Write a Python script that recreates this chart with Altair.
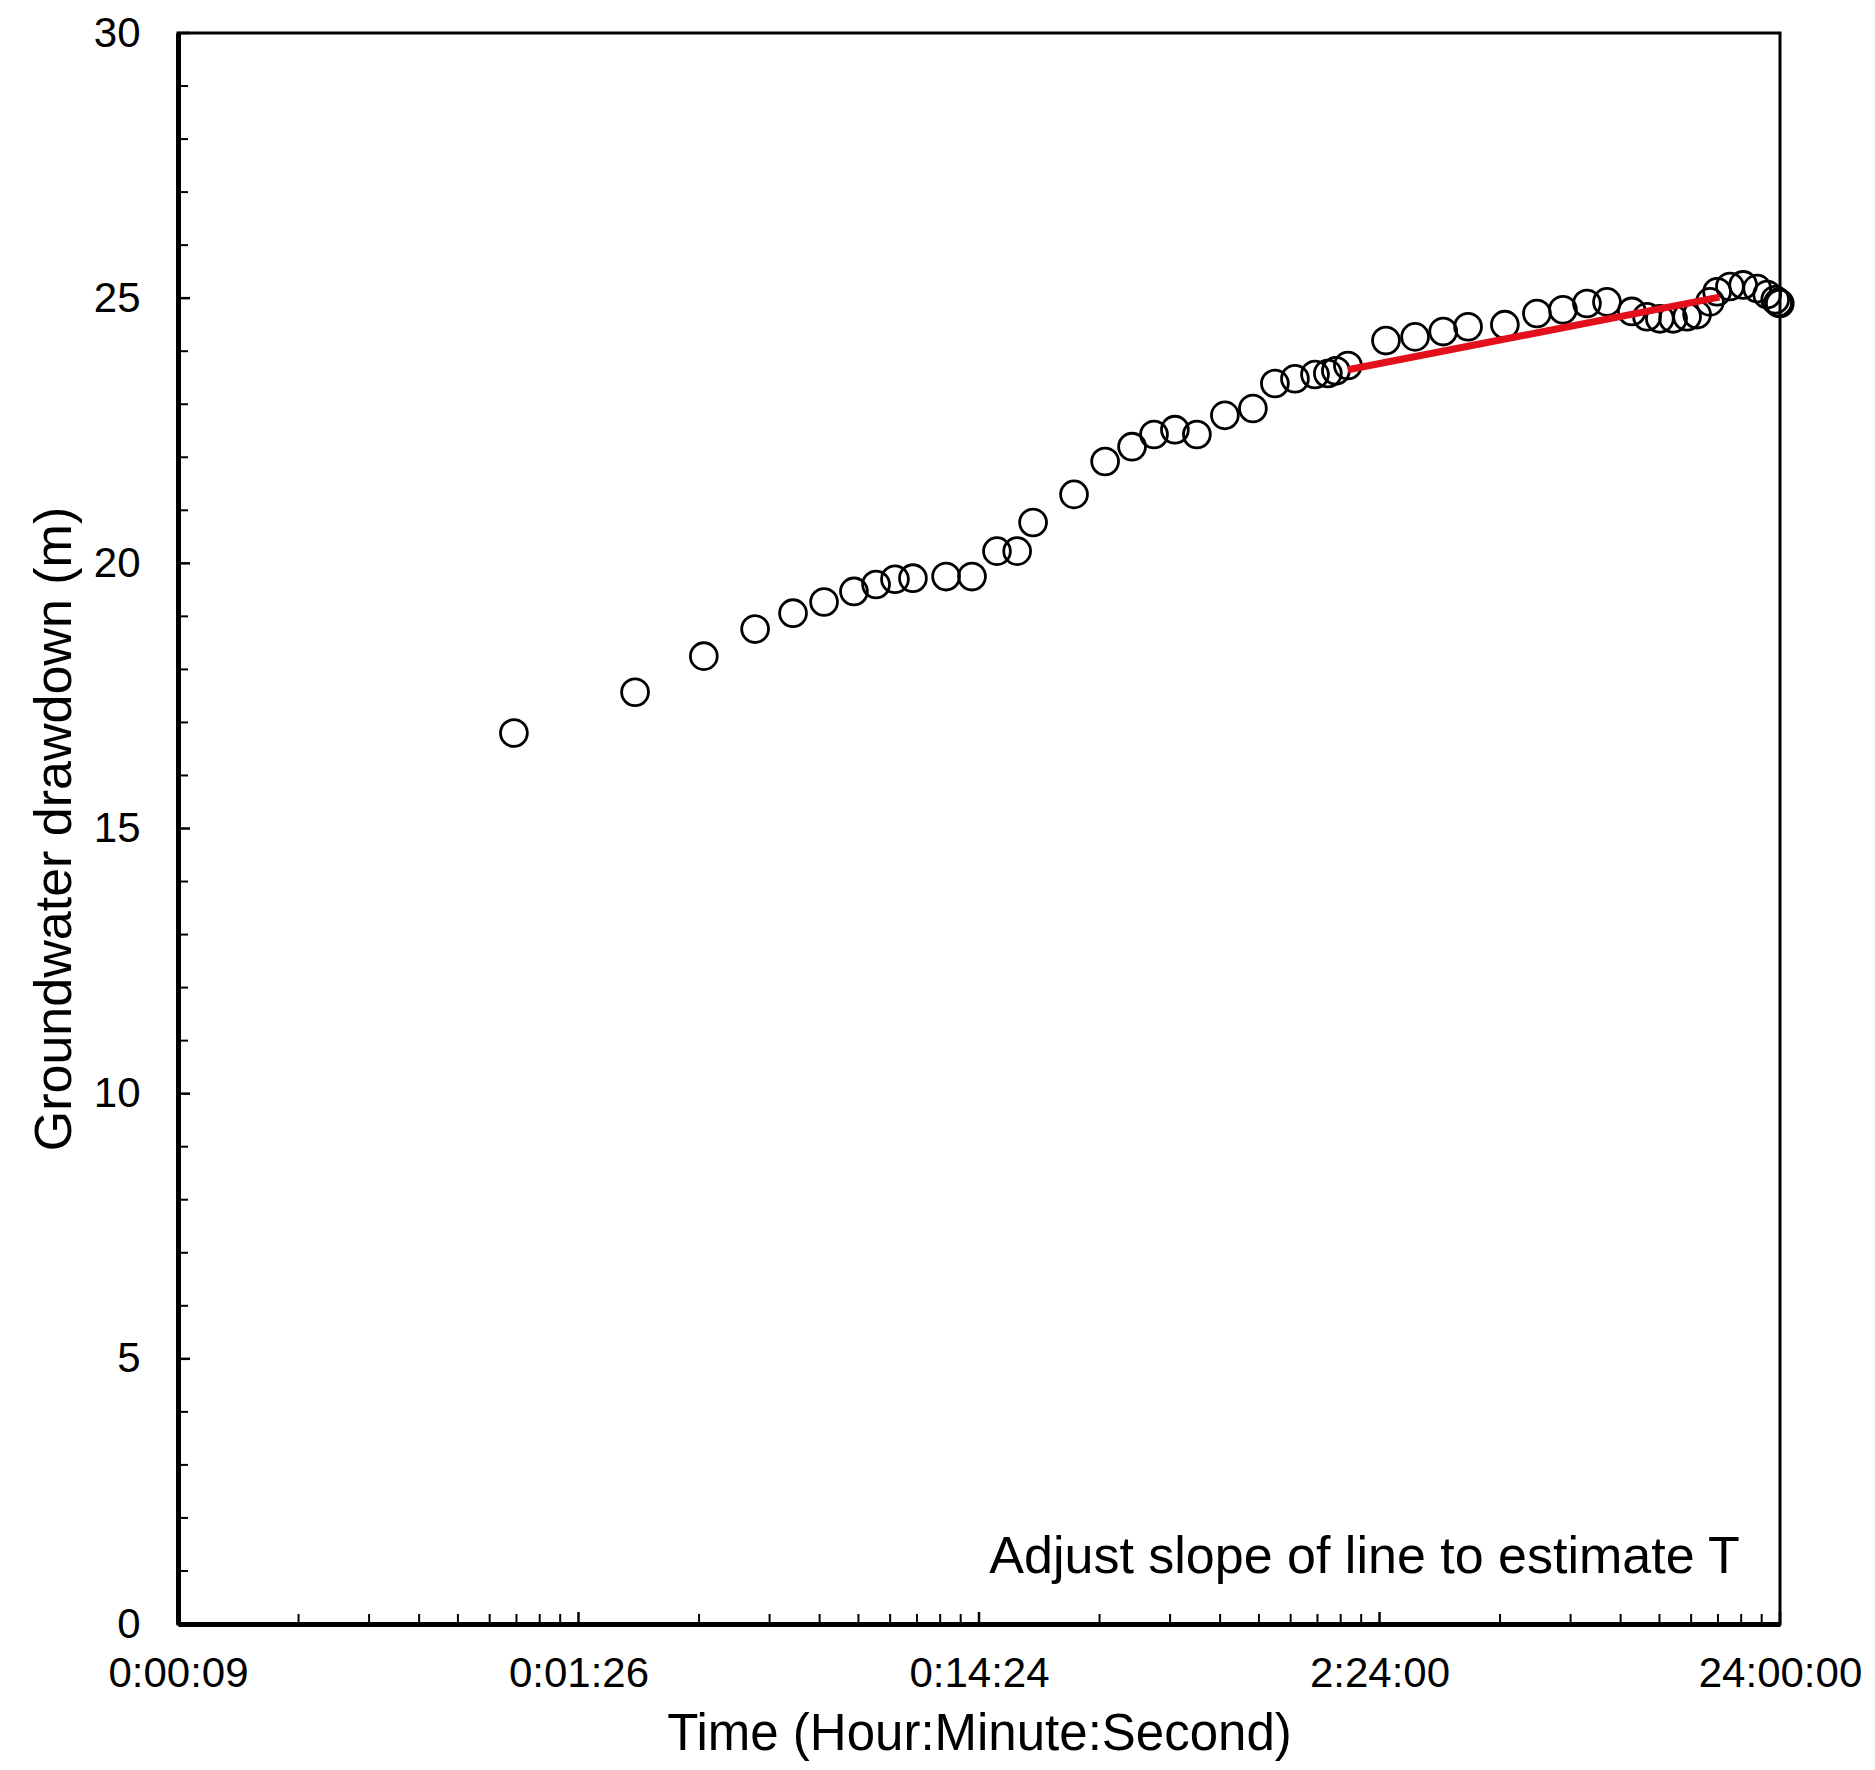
import json
import altair as alt
import pandas as pd

# ---- data ----
time_s = [59.6, 119.6, 177.6, 238.5, 296.6, 354.5, 421, 478, 533, 591, 715, 830,
          958, 1076, 1179, 1492, 1784, 2083, 2363, 2665, 3024, 3552, 4173, 4735,
          5314, 5963, 6420, 6724, 7205, 8968, 10602, 12460, 14377, 17764, 21358,
          24805, 28477, 31951, 36858, 40228, 43304, 46725, 50639, 53646, 57741,
          60186, 64791, 69906, 75773, 80266, 84041, 85500, 86300]
drawdown_m = [16.80, 17.57, 18.25, 18.76, 19.06, 19.27, 19.47, 19.60, 19.70, 19.72,
              19.75, 19.75, 20.23, 20.23, 20.77, 21.30, 21.92, 22.20, 22.43, 22.52,
              22.43, 22.79, 22.92, 23.39, 23.48, 23.56, 23.58, 23.63, 23.73, 24.20,
              24.27, 24.37, 24.46, 24.50, 24.71, 24.78, 24.90, 24.93, 24.75, 24.65,
              24.61, 24.61, 24.65, 24.69, 24.93, 25.12, 25.22, 25.25, 25.18, 25.07,
              24.97, 24.92, 24.90]

fit_time_s = [7205, 61000]
fit_drawdown_m = [23.65, 25.02]

x_major = [8.64, 86.4, 864, 8640, 86400]
x_labels = ["0:00:09", "0:01:26", "0:14:24", "2:24:00", "24:00:00"]
y_major = [0, 5, 10, 15, 20, 25, 30]
y_minor = [v for v in range(0, 31) if v % 5 != 0]
x_minor = [b * m for b in x_major[:-1] for m in range(2, 10)]

note_text = ["Adjust slope of line to estimate T"]
note_time = [68600]
note_drawdown = [0.96]

W, H = 1602, 1591
FONT = "Liberation Sans"

pts = pd.DataFrame({"t": time_s, "d": drawdown_m})
fit = pd.DataFrame({"t": fit_time_s, "d": fit_drawdown_m})
xmaj = pd.DataFrame({"t": x_major})
xmin = pd.DataFrame({"t": x_minor})
ymaj = pd.DataFrame({"d": y_major})
ymin = pd.DataFrame({"d": y_minor})
note = pd.DataFrame({"t": note_time, "d": note_drawdown, "txt": note_text})

xscale = alt.Scale(type="log", domain=[8.64, 86400], nice=False)
yscale = alt.Scale(domain=[0, 30], nice=False, zero=False)

label_expr = (json.dumps(x_labels).replace('"', "'") +
              "[round(log(datum.value/8.64)/LN10)]")

xaxis = alt.Axis(title="Time (Hour:Minute:Second)", values=x_major,
                 labelExpr=label_expr, tickSize=0, labelPadding=29,
                 labelFlush=False, labelOverlap=False, grid=False,
                 titlePadding=15, titleFontSize=51)
yaxis = alt.Axis(title="Groundwater drawdown (m)", values=y_major,
                 tickSize=0, labelPadding=38, grid=False, titlePadding=12)


def X():
    return alt.X("t:Q", scale=xscale, axis=xaxis)


def Y():
    return alt.Y("d:Q", scale=yscale, axis=yaxis)


points = alt.Chart(pts).mark_point(
    shape="circle", filled=False, size=720, strokeWidth=2.8, color="black", opacity=1
).encode(x=X(), y=Y())

line = alt.Chart(fit).mark_line(color="#e3101c", strokeWidth=7).encode(x=X(), y=Y())

xt_major = alt.Chart(xmaj).mark_rule(color="black", strokeWidth=2.5).encode(
    x=X(), y=alt.value(H), y2=alt.value(H - 12),
)
xt_minor = alt.Chart(xmin).mark_rule(color="black", strokeWidth=2).encode(
    x=X(), y=alt.value(H), y2=alt.value(H - 10),
)
yt_major = alt.Chart(ymaj).mark_rule(color="black", strokeWidth=2.5).encode(
    y=Y(), x=alt.value(0), x2=alt.value(12),
)
yt_minor = alt.Chart(ymin).mark_rule(color="black", strokeWidth=2).encode(
    y=Y(), x=alt.value(0), x2=alt.value(10),
)

annot = alt.Chart(note).mark_text(
    align="right", baseline="alphabetic", fontSize=52, font=FONT, color="black"
).encode(x=X(), y=Y(), text="txt:N")

chart = alt.layer(points, line, xt_major, xt_minor, yt_major, yt_minor, annot).properties(
    width=W, height=H,
    background="white",
    autosize=alt.AutoSizeParams(type="none"),
    padding={"left": 170, "top": 25, "right": 87, "bottom": 138},
).configure_view(
    stroke="black", strokeWidth=3
).configure_axis(
    domainColor="black", domainWidth=5,
    labelFont=FONT, labelFontSize=42, labelColor="black",
    titleFont=FONT, titleFontSize=52, titleFontWeight="normal", titleColor="black",
)

chart.save("out.html", embed_options={"renderer": "svg", "actions": False})
